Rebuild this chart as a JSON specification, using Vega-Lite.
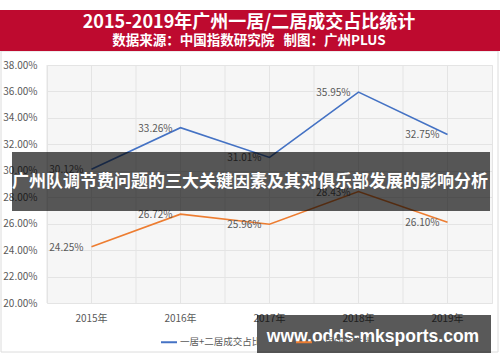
{
  "$schema": "https://vega.github.io/schema/vega-lite/v6.json",
  "width": 445,
  "height": 238,
  "autosize": {"type": "none"},
  "padding": {"left": 47, "top": 65, "right": 8, "bottom": 59},
  "background": "#ffffff",
  "config": {
    "view": {"fill": "#f6f6f6", "stroke": "#e4e4e4"},
    "axis": {"labelFont": "Noto Sans CJK SC", "labelColor": "#595959", "labelFontSize": 10, "ticks": false, "domain": false, "gridColor": "#e4e4e4", "gridWidth": 1, "title": null, "labelOverlap": false}
  },
  "datasets": {
    "rows": [
      {"year": "2015年", "series": "一居+二居成交占比", "value": 30.12},
      {"year": "2016年", "series": "一居+二居成交占比", "value": 33.26},
      {"year": "2017年", "series": "一居+二居成交占比", "value": 31.01},
      {"year": "2018年", "series": "一居+二居成交占比", "value": 35.95},
      {"year": "2019年", "series": "一居+二居成交占比", "value": 32.75},
      {"year": "2015年", "series": "一居成交占比", "value": 24.25},
      {"year": "2016年", "series": "一居成交占比", "value": 26.72},
      {"year": "2017年", "series": "一居成交占比", "value": 25.96},
      {"year": "2018年", "series": "一居成交占比", "value": 28.43},
      {"year": "2019年", "series": "一居成交占比", "value": 26.10}
    ]
  },
  "layer": [
    {
      "data": {"values": [{}]},
      "mark": {"type": "rect", "fill": null, "stroke": "#dcdcdc", "strokeWidth": 1},
      "encoding": {"x": {"value": -46}, "x2": {"value": 451}, "y": {"value": -14}, "y2": {"value": 287}}
    },
    {
      "data": {"name": "rows"},
      "transform": [{"filter": "datum.series === '一居成交占比'"}],
      "mark": {"type": "rule", "color": "#e4e4e4", "strokeWidth": 1},
      "encoding": {
        "x": {"field": "year", "type": "ordinal", "bandPosition": 0,
              "scale": {"type": "band", "paddingInner": 0, "paddingOuter": 0},
              "axis": {"bandPosition": 0.5, "grid": true, "labelPadding": 10, "labelAngle": 0}}
      }
    },
    {
      "data": {"name": "rows"},
      "mark": {"type": "line", "strokeWidth": 1.6},
      "encoding": {
        "x": {"field": "year", "type": "ordinal", "bandPosition": 0.5},
        "y": {"field": "value", "type": "quantitative",
              "scale": {"domain": [20, 38], "nice": false, "zero": false},
              "axis": {"values": [20, 22, 24, 26, 28, 30, 32, 34, 36, 38], "grid": true, "labelPadding": 10, "labelOverlap": false, "tickCount": 10,
                       "labelExpr": "format(datum.value, '.2f') + '%'"}},
        "color": {"field": "series", "type": "nominal",
                  "scale": {"domain": ["一居+二居成交占比", "一居成交占比"], "range": ["#4472c4", "#ed7d31"]},
                  "legend": {"orient": "none", "legendX": 113, "legendY": 268, "direction": "horizontal", "title": null,
                             "symbolType": "stroke", "symbolSize": 256, "symbolStrokeWidth": 2,
                             "labelFont": "Noto Sans CJK SC", "labelFontSize": 9.5, "labelColor": "#595959",
                             "labelOffset": 2, "columnPadding": 30}}
      }
    },
    {
      "data": {"name": "rows"},
      "transform": [{"calculate": "format(datum.value, '.2f') + '%'", "as": "label"}],
      "mark": {"type": "text", "align": "right", "baseline": "middle", "dx": -8, "dy": 1, "font": "Noto Sans CJK SC", "fontSize": 10, "color": "#595959"},
      "encoding": {
        "x": {"field": "year", "type": "ordinal", "bandPosition": 0.5},
        "y": {"field": "value", "type": "quantitative"},
        "text": {"field": "label", "type": "nominal"}
      }
    },
    {
      "data": {"values": [{}]},
      "mark": {"type": "rect", "fill": "#be0a2f"},
      "encoding": {"x": {"value": -47}, "x2": {"value": 453}, "y": {"value": -55}, "y2": {"value": -14}}
    },
    {
      "data": {"values": [{"t": "2015-2019年广州一居/二居成交占比统计"}]},
      "mark": {"type": "text", "align": "center", "baseline": "middle", "font": "Noto Sans CJK SC", "fontSize": 18, "fontWeight": "bold", "color": "#ffffff"},
      "encoding": {"x": {"value": 202}, "y": {"value": -42}, "text": {"field": "t"}}
    },
    {
      "data": {"values": [{"t": "数据来源：中国指数研究院\u00a0\u00a0\u00a0制图：广州PLUS"}]},
      "mark": {"type": "text", "align": "center", "baseline": "middle", "font": "Noto Sans CJK SC", "fontSize": 13.5, "fontWeight": "bold", "color": "#ffffff"},
      "encoding": {"x": {"value": 202}, "y": {"value": -24}, "text": {"field": "t"}}
    },
    {
      "data": {"values": [{}]},
      "mark": {"type": "rect", "fill": "#000000", "opacity": 0.65},
      "encoding": {"x": {"value": -35}, "x2": {"value": 443}, "y": {"value": 87}, "y2": {"value": 146}}
    },
    {
      "data": {"values": [{"t": "广州队调节费问题的三大关键因素及其对俱乐部发展的影响分析"}]},
      "mark": {"type": "text", "align": "center", "baseline": "middle", "font": "Noto Sans CJK SC", "fontSize": 17, "fontWeight": "bold", "color": "#ffffff"},
      "encoding": {"x": {"value": 203}, "y": {"value": 117}, "text": {"field": "t"}}
    },
    {
      "data": {"values": [{}]},
      "mark": {"type": "rect", "fill": "#000000", "opacity": 0.65},
      "encoding": {"x": {"value": 210}, "x2": {"value": 444}, "y": {"value": 250}, "y2": {"value": 288}}
    },
    {
      "data": {"values": [{"t": "www.odds-mksports.com"}]},
      "mark": {"type": "text", "align": "center", "baseline": "middle", "font": "Liberation Sans", "fontSize": 17.5, "fontWeight": "bold", "color": "#ffffff"},
      "encoding": {"x": {"value": 326}, "y": {"value": 272}, "text": {"field": "t"}}
    }
  ]
}
